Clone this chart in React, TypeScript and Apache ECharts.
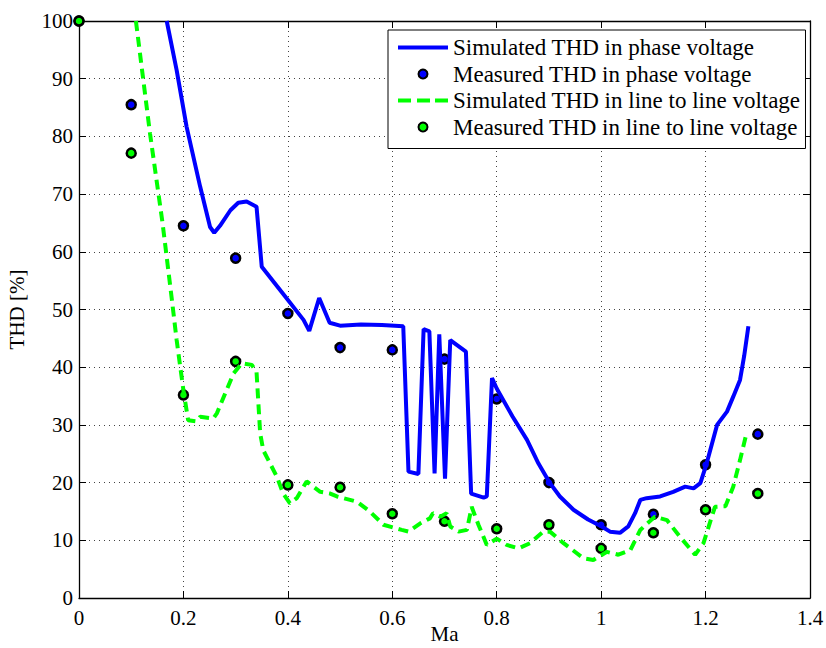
import React, { useEffect, useRef } from "react";
import * as echarts from "echarts";

const xTicks = [0, 0.2, 0.4, 0.6, 0.8, 1, 1.2, 1.4];

const simPhase: [number, number][] = [
  [0.168, 100], [0.187, 91.5], [0.206, 81.7], [0.232, 71.3], [0.251, 64.3], [0.259, 63.3],
  [0.27, 64.5], [0.29, 67.2], [0.305, 68.5], [0.321, 68.7], [0.34, 67.8], [0.35, 57.4],
  [0.39, 52.8], [0.43, 48.2], [0.441, 46.3], [0.46, 52.0], [0.48, 47.7], [0.5, 47.2],
  [0.54, 47.4], [0.58, 47.3], [0.621, 47.1], [0.631, 21.9], [0.65, 21.5], [0.66, 46.6],
  [0.671, 46.2], [0.681, 21.6], [0.69, 45.7], [0.701, 20.7], [0.711, 44.7], [0.741, 42.7],
  [0.751, 18.1], [0.775, 17.4], [0.781, 17.6], [0.791, 38.1], [0.8, 36.3], [0.83, 31.5],
  [0.858, 27.4], [0.88, 23.3], [0.902, 19.9], [0.921, 17.6], [0.947, 15.3], [0.975, 13.6],
  [1.001, 12.4], [1.017, 11.5], [1.036, 11.3], [1.052, 12.4], [1.065, 14.7], [1.075, 17.0],
  [1.087, 17.3], [1.113, 17.6], [1.138, 18.4], [1.161, 19.3], [1.177, 19.0], [1.19, 19.9],
  [1.202, 23.3], [1.222, 30.0], [1.241, 32.3], [1.253, 34.9], [1.266, 37.8], [1.274, 42.0],
  [1.282, 47.1],
];

const simLine: [number, number][] = [
  [0.109, 100], [0.136, 80.5], [0.16, 65], [0.178, 51.6], [0.187, 44.7], [0.2, 36],
  [0.209, 30.8], [0.225, 30.6], [0.232, 31.4], [0.257, 31.1], [0.264, 32.0], [0.296, 38.9],
  [0.312, 40.7], [0.331, 40.4], [0.34, 39.2], [0.347, 28.5], [0.353, 25.6], [0.379, 21.0],
  [0.391, 18.1], [0.404, 16.4], [0.417, 17.3], [0.436, 20.2], [0.462, 18.4], [0.481, 18.1],
  [0.494, 17.6], [0.532, 16.7], [0.557, 15.0], [0.583, 12.7], [0.618, 11.8], [0.631, 11.5],
  [0.653, 12.9], [0.672, 13.8], [0.678, 14.7], [0.692, 14.1], [0.704, 14.7], [0.711, 12.4],
  [0.727, 11.5], [0.743, 11.8], [0.752, 15.8], [0.765, 12.7], [0.781, 9.2], [0.8, 10.3],
  [0.819, 9.2], [0.842, 8.6], [0.864, 9.5], [0.889, 11.5], [0.902, 11.5], [0.928, 9.5],
  [0.966, 6.9], [0.985, 6.6], [1.011, 8.0], [1.033, 7.5], [1.056, 8.3], [1.075, 11.8],
  [1.103, 14.1], [1.126, 13.5], [1.151, 10.6], [1.18, 7.5], [1.196, 9.5], [1.212, 14.1],
  [1.218, 15.8], [1.238, 15.9], [1.253, 19.3], [1.266, 23.9], [1.279, 28.8],
];

const measX = [0, 0.1, 0.2, 0.3, 0.4, 0.5, 0.6, 0.7, 0.8, 0.9, 1.0, 1.1, 1.2, 1.3];
const measPhase = [100, 85.5, 64.5, 58.9, 49.3, 43.4, 43.0, 41.4, 34.5, 20.0, 12.7, 14.5, 23.1, 28.4];
const measLine = [100, 77.1, 35.2, 41.0, 19.6, 19.2, 14.6, 13.3, 12.0, 12.7, 8.6, 11.3, 15.3, 18.1];

const names = [
  "Simulated THD in phase voltage",
  "Measured THD in phase voltage",
  "Simulated THD in line to line voltage",
  "Measured THD in line to line voltage",
];

const FONT = "Liberation Serif";

export default function App() {
  const ref = useRef<HTMLDivElement>(null);
  useEffect(() => {
    if (!ref.current) return;
    const chart = echarts.init(ref.current, undefined, { renderer: "svg" });
    const gridLine = { show: true, lineStyle: { type: [1, 4] as any, color: "#444", width: 1 } };
    const axisLine = { show: true, onZero: false, lineStyle: { color: "#000", width: 1.3 } };
    const tick = { show: true, inside: true, length: 7, lineStyle: { color: "#000", width: 1 } };
    const label = { fontFamily: FONT, fontSize: 21, color: "#000", fontWeight: "normal" as const };
    chart.setOption({
      animation: false,
      backgroundColor: "#fff",
      textStyle: { fontFamily: FONT },
      grid: { left: 79, right: 16, top: 21, bottom: 50, containLabel: false, outerBoundsMode: "none" },
      xAxis: [
        {
          type: "value", min: 0, max: 1.4, interval: 0.2, position: "bottom",
          name: "Ma", nameLocation: "middle", nameGap: 25, nameMoveOverlap: false,
          nameTextStyle: label,
          axisLine, axisTick: tick,
          axisLabel: {
            ...label, margin: 9,
            formatter: (v: number) => {
              const r = Math.round(v * 10) / 10;
              return xTicks.includes(r) ? String(r) : "";
            },
          },
          splitLine: gridLine,
        },
        {
          type: "value", min: 0, max: 1.4, interval: 0.2, position: "top",
          axisLine, axisTick: tick, axisLabel: { show: false }, splitLine: { show: false },
        },
      ],
      yAxis: [
        {
          type: "value", min: 0, max: 100, interval: 10, position: "left",
          name: "THD [%]", nameLocation: "middle", nameGap: 52, nameMoveOverlap: false,
          nameTextStyle: label,
          axisLine, axisTick: tick,
          axisLabel: { ...label, margin: 6 },
          splitLine: gridLine,
        },
        {
          type: "value", min: 0, max: 100, interval: 10, position: "right",
          axisLine, axisTick: tick, axisLabel: { show: false }, splitLine: { show: false },
        },
      ],
      legend: {
        orient: "vertical",
        left: 388,
        top: 30,
        padding: [6, 5, 10, 10],
        itemGap: 3.5,
        itemWidth: 50,
        itemHeight: 9,
        backgroundColor: "#fff",
        borderColor: "#000",
        borderWidth: 1,
        textStyle: { fontFamily: FONT, fontSize: 23, color: "#000" },
        data: [
          { name: names[0], icon: "path://M0,0h50v4h-50z", itemStyle: { color: "#0000ff", borderWidth: 0 } },
          { name: names[1] },
          { name: names[2], icon: "path://M0,0h13v4h-13zM19,0h13v4h-13zM37,0h13v4h-13z", itemStyle: { color: "#00ff00", borderWidth: 0 } },
          { name: names[3] },
        ],
      },
      series: [
        {
          name: names[0], type: "line", data: simPhase, showSymbol: false, symbol: "none",
          lineStyle: { color: "#0000ff", width: 4 }, itemStyle: { color: "#0000ff" },
        },
        {
          name: names[1], type: "scatter", data: measX.map((x, i) => [x, measPhase[i]]),
          symbol: "circle", symbolSize: 9, clip: false,
          itemStyle: { color: "#0000ff", borderColor: "#000", borderWidth: 2.5, opacity: 1 },
        },
        {
          name: names[2], type: "line", data: simLine, showSymbol: false, symbol: "none",
          lineStyle: { color: "#00ff00", width: 4, type: [10, 6] as any }, itemStyle: { color: "#00ff00" },
        },
        {
          name: names[3], type: "scatter", data: measX.map((x, i) => [x, measLine[i]]),
          symbol: "circle", symbolSize: 9, clip: false,
          itemStyle: { color: "#00ff00", borderColor: "#000", borderWidth: 2.5, opacity: 1 },
        },
      ],
    });
    return () => chart.dispose();
  }, []);
  return (
    <div
      ref={ref}
      style={{ position: "fixed", left: 0, top: 0, width: 826, height: 648, background: "#fff" }}
    />
  );
}
